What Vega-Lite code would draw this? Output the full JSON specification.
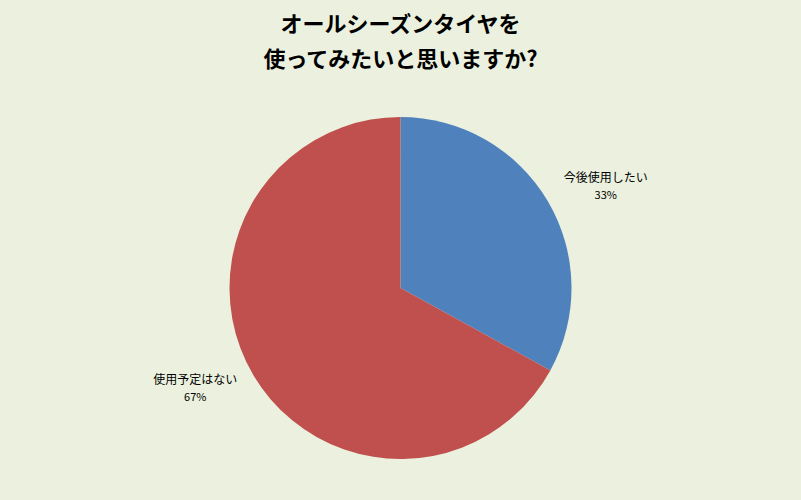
{
  "$schema": "https://vega.github.io/schema/vega-lite/v6.json",
  "width": 801,
  "height": 500,
  "autosize": {"type": "fit", "contains": "padding"},
  "padding": {"top": 14, "left": 0, "right": 0, "bottom": 0},
  "background": "#EBF1DE",
  "config": {"view": {"stroke": null}},
  "title": {
    "text": ["オールシーズンタイヤを", "使ってみたいと思いますか?"],
    "font": "Noto Sans CJK JP",
    "fontSize": 22,
    "fontWeight": "bold",
    "lineHeight": 35,
    "color": "#000000",
    "anchor": "middle",
    "offset": 4
  },
  "data": {
    "values": [
      {"category": "今後使用したい", "value": 33, "pct": "33%", "order": 1},
      {"category": "使用予定はない", "value": 67, "pct": "67%", "order": 2}
    ]
  },
  "encoding": {
    "theta": {"field": "value", "type": "quantitative", "stack": true},
    "order": {"field": "order", "type": "quantitative"}
  },
  "layer": [
    {
      "mark": {"type": "arc", "outerRadius": 171},
      "encoding": {
        "color": {
          "field": "category",
          "type": "nominal",
          "scale": {"domain": ["今後使用したい", "使用予定はない"], "range": ["#4F81BD", "#C0504D"]},
          "legend": null
        }
      }
    },
    {
      "mark": {"type": "text", "radius": 229, "thetaOffset": 0.075, "dy": -9, "font": "Noto Sans CJK JP", "fontSize": 12, "color": "#000000"},
      "encoding": {"text": {"field": "category"}}
    },
    {
      "mark": {"type": "text", "radius": 229, "thetaOffset": 0.075, "dy": 9, "font": "Noto Sans CJK JP", "fontSize": 11, "color": "#000000"},
      "encoding": {"text": {"field": "pct"}}
    }
  ]
}
